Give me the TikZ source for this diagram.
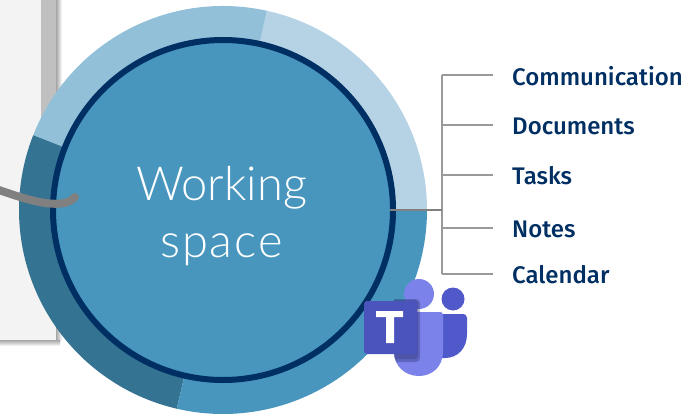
\documentclass[tikz,border=0pt]{standalone}
\usepackage{fontspec}
\setmainfont{Fira Sans}[UprightFont=* Medium]
\newfontfamily\lightfont{Lato}[UprightFont=* Light]
\definecolor{segA}{HTML}{B5D3E5}
\definecolor{segB}{HTML}{92C0D9}
\definecolor{segC}{HTML}{347392}
\definecolor{segD}{HTML}{4896BE}
\definecolor{navy}{HTML}{002F63}
\definecolor{paper}{HTML}{F3F3F3}
\definecolor{band}{HTML}{C0C0C0}
\definecolor{teamsA}{HTML}{7B83EB}
\definecolor{teamsB}{HTML}{5059C9}
\definecolor{teamsC}{HTML}{4B53BC}
\definecolor{teamsD}{HTML}{2A2F70}
\tikzset{
  branch/.style={draw=black!40, line width=1.5pt},
  trunk/.style={draw=black!50, line width=2pt},
  lab/.style={anchor=west, text=navy, font=\fontsize{24}{26}\selectfont, inner sep=0pt},
  mainlab/.style={align=center, text=white, font=\lightfont\fontsize{47}{57}\selectfont, inner sep=0pt}
}
\begin{document}
\begin{tikzpicture}[x=1pt,y=1pt]
\useasboundingbox (0,0) rectangle (692,418);
\fill[white] (0,0) rectangle (692,418);
% paper with shadow
\shade[left color=black!35, right color=white] (56,78) rectangle (62,418);
\shade[top color=black!35, bottom color=white] (0,78) rectangle (60,72);
\fill[paper] (0,78) rectangle (56,418);
\fill[band] (41,170) rectangle (56,418);
% ring segments
\coordinate (c) at (223,208);
\fill[segA] (c) -- ++(0:204) arc (0:77.6:204) -- cycle;
\fill[segB] (c) -- ++(77.6:204) arc (77.6:158.5:204) -- cycle;
\fill[segC] (c) -- ++(158.5:204) arc (158.5:256.9:204) -- cycle;
\fill[segD] (c) -- ++(256.9:204) arc (256.9:360:204) -- cycle;
% inner disc
\node[circle, minimum size=340pt, inner sep=0pt, fill=segD, draw=navy, line width=6pt] (disc) at (c) {};
\node[mainlab] (title) at (221.5,202) {Working\\{\addfontfeature{LetterSpace=4}space}};
% grey stroke
\coordinate (strokeA) at (-4,229);
\coordinate (strokeB) at (75,221);
\draw[black!50, line width=8pt, line cap=round] (strokeA) .. controls (25,219) and (62,206) .. (strokeB);
% connectors
\coordinate (hub) at (442,208);
\coordinate (t1) at (442,343);
\coordinate (t5) at (442,144);
\node[lab] (communication) at (512,342) {Communication};
\node[lab] (documents) at (512,292) {Documents};
\node[lab] (tasks) at (512,242) {Tasks};
\node[lab] (notes) at (512,189) {Notes};
\node[lab] (calendar) at (512,143) {Calendar};
\draw[branch] (t1) -- (t5);
\foreach \y in {343,293,243,190,144}
  \draw[branch] (442,\y) -- (493,\y);
\draw[trunk] (disc.east) ++(-6,0) -- (hub);
% teams logo
\fill[teamsB] (453,119) circle (11.5);
\fill[teamsB] (436,104) -- (436,60) -- (445,60) .. controls (458,60) and (467,70) .. (467,84)
  -- (467,100) .. controls (467,103) and (465,104) .. (463,104) -- cycle;
\fill[teamsA] (419,124) circle (15);
\fill[teamsA] (394,106) -- (440,106) .. controls (442,106) and (443,105) .. (443,103)
  -- (443,67) .. controls (443,51) and (432,42) .. (419,42) .. controls (405,42) and (394,52) .. (394,66) -- cycle;
\begin{scope}
\clip (394,130) -- (394,66) .. controls (394,52) and (405,42) .. (419,42) -- (440,42) -- (440,130) -- cycle;
\fill[teamsD, opacity=.35, rounded corners=4pt] (385,56) rectangle (420,119);
\fill[teamsD, opacity=.3, rounded corners=3pt] (385,59) rectangle (418,118);
\end{scope}
\fill[teamsC, rounded corners=3pt] (364,64) rectangle (417,117);
\fill[white] (376,107) -- (403,107) -- (403,101) -- (394,101) -- (394,75) -- (386,75) -- (386,101) -- (376,101) -- cycle;
\end{tikzpicture}
\end{document}
